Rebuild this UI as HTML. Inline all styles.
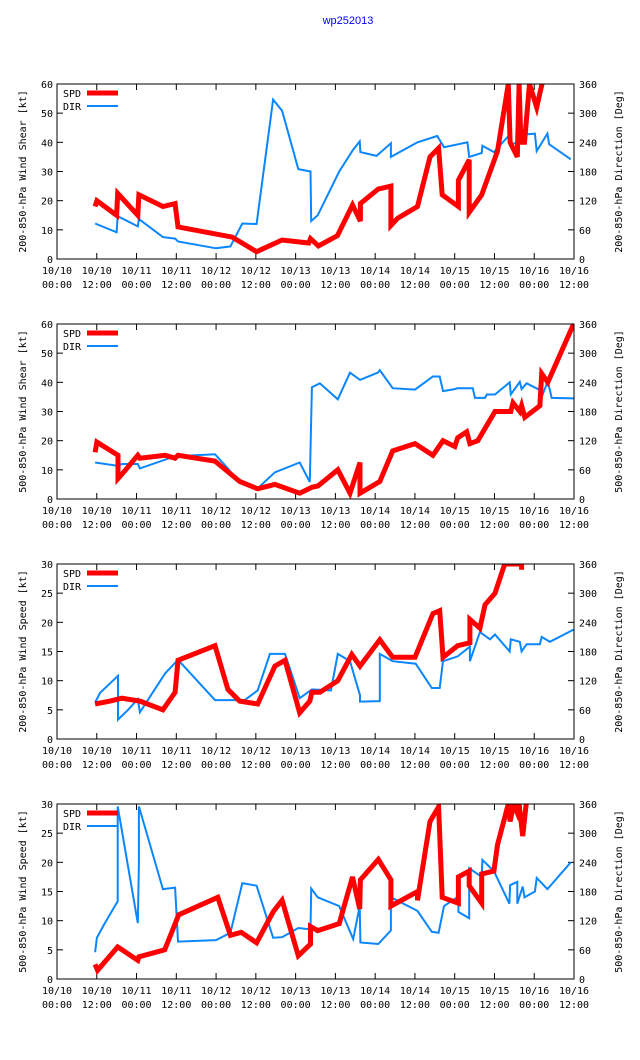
<!DOCTYPE html>
<html><head><meta charset="utf-8"><style>
body{margin:0;background:#fff;}
svg{display:block;font-family:"DejaVu Sans Mono","Liberation Mono",monospace;font-size:10px;}
</style></head><body>
<svg id="c" width="640" height="1060" xmlns="http://www.w3.org/2000/svg">
<rect width="640" height="1060" fill="#fff"/>
<text x="348" y="24" text-anchor="middle" fill="#0000ff" font-size="11" font-family="Liberation Sans, sans-serif">wp252013</text>
</svg>
<script>
// time axis: value units where full axis (10/10 00:00 .. 10/16 12:00) spans 144 units
const xTickDates = ["10/10","10/10","10/11","10/11","10/12","10/12","10/13","10/13","10/14","10/14","10/15","10/15","10/16","10/16"];
const xTickTimes = ["00:00","12:00","00:00","12:00","00:00","12:00","00:00","12:00","00:00","12:00","00:00","12:00","00:00","12:00"];
const panelTitles = ["200-850-hPa Wind Shear [kt]","500-850-hPa Wind Shear [kt]","200-850-hPa Wind Speed [kt]","500-850-hPa Wind Speed [kt]"];
const y2Titles = ["200-850-hPa Direction [Deg]","500-850-hPa Direction [Deg]","200-850-hPa Direction [Deg]","500-850-hPa Direction [Deg]"];
const yTicks60 = [0,10,20,30,40,50,60];
const yTicks30 = [0,5,10,15,20,25,30];
const y2Ticks = [0,60,120,180,240,300,360];

const spd1T = [10.6,11.1,16.6,16.9,22.5,22.8,29.5,32.9,33.7,48.8,55.6,62.7,70.1,70.6,72.8,78.1,82.3,84.5,84.5,89.5,93,93,94.9,100.4,103.9,106.3,107.3,111.8,111.8,114.8,114.8,118.3,122.7,125.7,126.2,128.2,128.7,129.2,130.2,131.6,133.6,135.1];
const spd1V = [18,20,15,22.5,15,22,18,19,11,7.5,2.5,6.5,5.5,7,4.5,8,18.5,13,19,24,25,11.5,14,18,35,38,22,18,27,34,16,22,37,60,40,35,60,40,40,60,52,60];
const dir1T = [10.6,16.6,16.9,22.5,22.8,29.5,32.9,33.7,44.3,48.3,51.6,55.6,60.2,62.7,67.2,70.6,70.8,72.6,78.6,82.5,84.3,84.5,89,93,93,100.4,105.9,107.8,114.3,114.8,118.3,118.5,121.7,126,126.2,128.2,128.7,133.1,133.6,136.6,137.1,143.1];
const dir1V = [73,55,88,67,82,45,42,36,22,26,73,72,328,305,185,180,78,90,180,225,242,220,212,238,210,240,253,230,240,210,218,233,220,255,235,240,255,258,222,258,236,205];

const spd2T = [10.6,11.1,17,17,18.4,22.5,23.1,30.1,32.9,33.7,44,50.9,55.9,60.7,67.6,71,72.7,78.2,81.6,84.4,84.4,89.9,93.5,99.7,104.7,107.5,110.8,111.6,114.1,115,117.2,122,126.4,127,128.9,129.4,130.3,134.5,135,136.7,143.9];
const spd2V = [16,19.5,15,7,9,15,14,15,14,15,13,6,3.5,5,2,4,4.5,10,2,12.5,2,6,16.5,19,15,20,18,21,23,19,20,30,30,33,30,32,28,32,43,40,60];
const dir2T = [10.6,17,18.1,22.5,23.1,32.9,44,47.6,50.9,55.9,60.7,67.6,70.4,71,73.2,78.2,81.6,84.4,89.4,89.9,93.5,99.7,104.7,106.6,107.5,110.8,111.6,115.8,116.4,119.2,119.7,122,126.1,126.4,128.9,129.4,130.8,134.5,135,136.7,137.8,143.9];
const dir2V = [75,68,72,72,63,88,92,63,33,22,55,75,35,230,238,205,260,245,260,265,228,225,252,252,222,226,228,228,208,208,215,215,240,215,241,226,238,224,210,242,208,207];

const spd3T = [10.6,14.8,18.1,23.1,29.5,32.9,33.7,44,47.6,50.9,55.9,60.7,63.5,67.6,70.4,71,73.2,78.2,82.1,84.4,89.9,93.5,99.7,104.7,106.6,107.5,111.6,115,115,117.8,119.2,122,124.7,129.4,129.4];
const spd3V = [6,6.5,7,6.5,5,8,13.5,16,8.5,6.5,6,12.5,13.5,4.5,6.5,8,8,10,14.5,12.5,17,14,14,21.5,22,14,16,16.5,20.5,19,23,25,30,30,29];
const dir3T = [10.6,12,17,17,19.8,22.5,23.1,30.1,33.7,44,52.3,55.9,59.3,63.5,67.6,71,76.3,78.2,81.6,84.4,84.4,89.9,89.9,93.5,99.9,104.4,106.6,107.5,111.6,115,115,117.8,120.6,122,126.1,126.4,128.9,129.4,130.8,134.5,135,137.3,143.9];
const dir3V = [75,95,130,40,60,82,55,135,163,80,80,100,175,175,84,102,100,175,160,90,77,78,175,160,155,105,105,160,170,190,160,220,205,215,180,205,200,180,195,195,210,200,225];

const spd4T = [10.6,11.3,16.9,22.5,22.8,30,33.9,44.8,48.3,51.3,55.6,60.2,62.7,67.2,70.6,70.6,72.6,78.6,82.3,84.3,84.5,89.5,93,93,100.4,100.4,103.9,106.3,107.3,111.8,111.8,114.8,114.8,118.3,118.3,121.7,122.7,125.7,126.2,127.2,128.2,128.7,129.7,130.7];
const spd4V = [2.5,1.5,5.5,3.2,3.8,5,11,14,7.5,8,6.2,11.5,13.5,4,6,9,8.3,9.5,17.5,12,17,20.5,17,12.5,15,13.5,27,29.5,14,13,17.5,18.5,16,13,18,18.5,23,30,27,30,28.5,30,24.5,30];
const dir4T = [10.6,11.1,13.1,16.9,16.9,22.5,22.8,22.8,29.5,32.9,33.7,44.3,48.3,51.6,55.6,60.2,62.7,67.2,70.6,70.8,72.6,78.6,82.5,84.3,84.5,89.5,93,93,100.4,104.4,106.3,107.8,111.8,111.8,114.8,114.8,118.3,118.5,121.7,126,126.2,128.2,128.2,129.7,130.2,133.1,133.6,136.6,143.1];
const dir4V = [55,85,112,160,355,115,235,355,185,188,77,80,95,197,192,85,86,105,102,186,168,150,82,150,75,72,100,168,140,97,95,150,170,138,125,228,210,245,222,155,193,200,155,190,168,180,208,185,240];

const panels = [
 {top:84,ymax:60,yt:yTicks60,spdT:spd1T,spdV:spd1V,dirT:dir1T,dirV:dir1V},
 {top:324,ymax:60,yt:yTicks60,spdT:spd2T,spdV:spd2V,dirT:dir2T,dirV:dir2V},
 {top:564,ymax:30,yt:yTicks30,spdT:spd3T,spdV:spd3V,dirT:dir3T,dirV:dir3V},
 {top:804,ymax:30,yt:yTicks30,spdT:spd4T,spdV:spd4V,dirT:dir4T,dirV:dir4V}
];
const NS="http://www.w3.org/2000/svg";
const svg=document.getElementById('c');
const X0=57,X1=574,H=175,SPAN=144;
function mk(tag,attrs,parent){const e=document.createElementNS(NS,tag);for(const k in attrs)e.setAttribute(k,attrs[k]);(parent||svg).appendChild(e);return e;}
function xs(h){return X0+(X1-X0)*h/SPAN;}
const defs=mk('defs',{});
panels.forEach((p,i)=>{
  const g=mk('g',{});
  
  
  const ys=v=>p.top+H-H*v/p.ymax;
  const y2s=v=>p.top+H-H*v/360;
  const cp=mk('clipPath',{id:'cp'+i},defs);
  mk('rect',{x:X0,y:p.top,width:X1-X0,height:H},cp);
  p.yt.forEach(v=>{
    const y=ys(v);
    mk('line',{x1:X0,y1:y,x2:X0+6,y2:y,stroke:'#000'},g);
    const t=mk('text',{x:X0-4,y:y+4,'text-anchor':'end'},g);t.textContent=v;
    
    
  });
  y2Ticks.forEach(v=>{
    const y=y2s(v);
    mk('line',{x1:X1-6,y1:y,x2:X1,y2:y,stroke:'#000'},g);
    const t=mk('text',{x:X1+5,y:y+4},g);t.textContent=v;
    
    
  });
  const n=xTickDates.length-1;
  xTickDates.forEach((d,k)=>{
    const x=xs(k*SPAN/n);
    mk('line',{x1:x,y1:p.top+H,x2:x,y2:p.top+H-6,stroke:'#000'},g);
    mk('line',{x1:x,y1:p.top,x2:x,y2:p.top+6,stroke:'#000'},g);
    const t=mk('text',{x:x,y:p.top+H+15,'text-anchor':'middle'},g);t.textContent=d;
    
    
    const t2=mk('text',{x:x,y:p.top+H+29,'text-anchor':'middle'},g);t2.textContent=xTickTimes[k];
    
    
  });
  const dpts=p.dirT.map((t,k)=>xs(t).toFixed(1)+','+y2s(p.dirV[k]).toFixed(1)).join(' ');
  const dl=mk('polyline',{points:dpts,fill:'none',stroke:'#0a86ff','stroke-width':2,'clip-path':'url(#cp'+i+')'},g);
  
  
  const spts=p.spdT.map((t,k)=>xs(t).toFixed(1)+','+ys(p.spdV[k]).toFixed(1)).join(' ');
  const sl=mk('polyline',{points:spts,fill:'none',stroke:'#ff0000','stroke-width':5,'clip-path':'url(#cp'+i+')'},g);
  
  
  mk('rect',{x:X0,y:p.top,width:X1-X0,height:H,fill:'none',stroke:'#000'},g);
  const l1=mk('text',{x:63,y:p.top+13},g);l1.textContent='SPD';
  
  
  mk('line',{x1:87,y1:p.top+9,x2:118,y2:p.top+9,stroke:'#ff0000','stroke-width':5},g);
  const l2=mk('text',{x:63,y:p.top+26},g);l2.textContent='DIR';
  
  
  mk('line',{x1:87,y1:p.top+22,x2:118,y2:p.top+22,stroke:'#0a86ff','stroke-width':2},g);
  const cy=p.top+H/2;
  const a=mk('text',{x:0,y:0,'text-anchor':'middle',transform:`translate(26,${cy}) rotate(-90)`},g);a.textContent=panelTitles[i];
  
  
  const b=mk('text',{x:0,y:0,'text-anchor':'middle',transform:`translate(622,${cy}) rotate(-90)`},g);b.textContent=y2Titles[i];
  
  
});
</script>
</body></html>
